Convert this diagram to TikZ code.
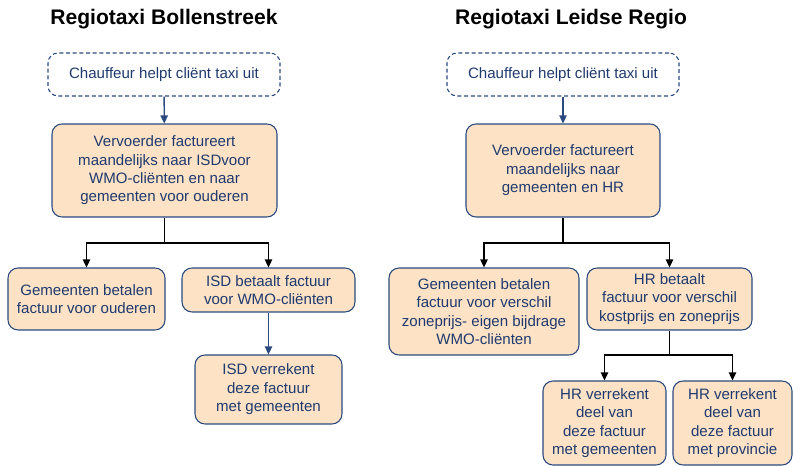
\documentclass[tikz,border=0pt]{standalone}
\usepackage{fontspec}
\setmainfont{Liberation Sans}
\usetikzlibrary{arrows.meta}
\definecolor{boxfill}{HTML}{FDE2C6}
\definecolor{boxline}{HTML}{2A4A7F}
\definecolor{txt}{HTML}{1F3A6E}
\tikzset{
  px/.style={x=0.75pt,y=-0.75pt},
  boxbase/.style={rectangle, rounded corners=7.5pt, align=center, inner sep=0pt, text=txt, font=\fontsize{11.3}{13.8}\selectfont},
  solidbox/.style={boxbase, draw=boxline, line width=0.8pt, fill=boxfill},
  dashbox/.style={boxbase, draw=boxline, line width=0.8pt, dashed, dash pattern=on 3pt off 2pt},
  title/.style={font=\fontsize{15.8}{18}\selectfont\bfseries, inner sep=0pt},
  bluearrow/.style={draw=boxline, line width=1pt, -{Triangle[length=6pt,width=5.5pt]}},
  blackarrow/.style={draw=black, line width=1pt, -{Triangle[length=6pt,width=5.5pt]}},
  blackline/.style={draw=black, line width=1pt}
}
\begin{document}
\begin{tikzpicture}[px]
\useasboundingbox (0,0) rectangle (793,466);
% titles
\node[title] (t1) at (164,19) {Regiotaxi Bollenstreek};
\node[title] (t2) at (571,19) {Regiotaxi Leidse Regio};
% left tree
\node[dashbox, minimum width=174pt, minimum height=32.25pt] (l0) at (164,74.5) {Chauffeur helpt cliënt taxi uit};
\node[solidbox, minimum width=168.75pt, minimum height=69.75pt] (l1) at (164.5,170.5) {Vervoerder factureert\\maandelijks naar ISDvoor\\WMO-cliënten en naar\\gemeenten voor ouderen};
\node[solidbox, minimum width=117.75pt, minimum height=46.5pt] (la) at (86.5,299) {Gemeenten betalen\\factuur voor ouderen};
\node[solidbox, minimum width=129.75pt, minimum height=33pt] (lb) at (268.5,290) {ISD betaalt factuur\\voor WMO-cliënten};
\node[solidbox, minimum width=110.25pt, minimum height=51.75pt] (lc) at (268.5,389.5) {ISD verrekent\\deze factuur\\met gemeenten};
\draw[bluearrow] (l0) -- (l1);
\coordinate (lj) at (164.5,243);
\draw[blackline] (l1.south) -- (lj);
\draw[blackarrow] (lj) -| (la.north);
\draw[blackarrow] (lj) -| (lb.north);
\draw[bluearrow] (lb) -- (lc);
% right tree
\node[dashbox, minimum width=174pt, minimum height=32.25pt] (r0) at (563,74.5) {Chauffeur helpt cliënt taxi uit};
\node[solidbox, minimum width=145.5pt, minimum height=69.75pt] (r1) at (563,170.5) {Vervoerder factureert\\maandelijks naar\\gemeenten en HR};
\node[solidbox, minimum width=142.5pt, minimum height=65.25pt] (ra) at (484,311.5) {Gemeenten betalen\\factuur voor verschil\\zoneprijs- eigen bijdrage\\WMO-cliënten};
\node[solidbox, minimum width=123.75pt, minimum height=46.5pt] (rb) at (669.5,299) {HR betaalt\\factuur voor verschil\\kostprijs en zoneprijs};
\node[solidbox, minimum width=92.25pt, minimum height=63pt] (rc) at (604.5,423) {HR verrekent\\deel van\\deze factuur\\met gemeenten};
\node[solidbox, minimum width=89.25pt, minimum height=63pt] (rd) at (732.5,423) {HR verrekent\\deel van\\deze factuur\\met provincie};
\draw[bluearrow] (r0) -- (r1);
\coordinate (rj) at (563,243);
\draw[blackline] (r1.south) -- (rj);
\draw[blackarrow] (rj) -| (ra.north);
\draw[blackarrow] (rj) -| (rb.north);
\coordinate (rk) at (669.5,355);
\draw[blackline] (rb.south) -- (rk);
\draw[blackarrow] (rk) -| (rc.north);
\draw[blackarrow] (rk) -| (rd.north);
\end{tikzpicture}
\end{document}
